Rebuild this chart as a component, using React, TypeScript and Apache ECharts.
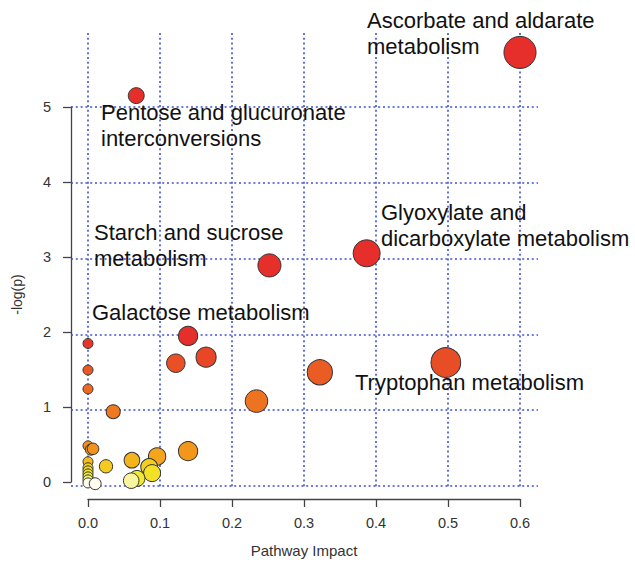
import React, { useEffect, useRef } from "react";
import * as echarts from "echarts";

// Pathway impact (x) and -log(p) (y) for each pathway
const impact = [
  0.6, 0.067, 0.387, 0.252, 0.139, 0.164, 0.122, 0.497, 0.322, 0.234, 0.035,
  0.0, 0.0, 0.0, 0.139, 0.096, 0.061, 0.025, 0.085, 0.089, 0.068, 0.06,
  0.0, 0.004, 0.007, 0.0, 0.0, 0.0, 0.0, 0.0, 0.0, 0.0, 0.01,
];
const logP = [
  5.72, 5.15, 3.07, 2.91, 1.98, 1.7, 1.62, 1.63, 1.5, 1.12, 0.98,
  1.88, 1.53, 1.28, 0.46, 0.39, 0.34, 0.26, 0.25, 0.17, 0.1, 0.07,
  0.53, 0.48, 0.49, 0.32, 0.24, 0.2, 0.16, 0.12, 0.08, 0.04, 0.03,
];
const xTicks = [0, 0.1, 0.2, 0.3, 0.4, 0.5, 0.6];
const yTicks = [0, 1, 2, 3, 4, 5];
const annotations = [
  "Ascorbate and aldarate\nmetabolism",
  "Pentose and glucuronate\ninterconversions",
  "Starch and sucrose\nmetabolism",
  "Glyoxylate and\ndicarboxylate metabolism",
  "Galactose metabolism",
  "Tryptophan metabolism",
];
// colour stops every 0.05 of -log(p), from 0 to 2
const heatColors = [
  "#ffffff", "#fdfbe6", "#f0ea34", "#f1e428", "#f3dc1e", "#f4ce1e", "#f5c01e",
  "#f4b11d", "#f4a21c", "#f3991c", "#f2901c", "#f18c1d", "#f1881e", "#f0861e",
  "#f0841e", "#f0821e", "#f0801e", "#ef7e1f", "#ef7c20", "#ef7a20", "#ef7820",
  "#ee7620", "#ee7420", "#ee7121", "#ee6e22", "#ed6b22", "#ed6822", "#ec6522",
  "#ec6222", "#eb5f23", "#eb5c24", "#ea5725", "#e95226", "#e84c26", "#e84626",
  "#e74127", "#e73c28", "#e63829", "#e6342a", "#e6312a", "#e62e2a",
];

const W = 635;
const H = 563;
const PX0 = 88;
const PX6 = 520;
const PY0 = 486;
const PY5 = 107;
const plotLeft = 71;
const plotRight = 538;
const plotTop = 33;
const plotBottom = 503;
const FONT = "'Liberation Sans', Arial, Helvetica, sans-serif";

export default function App() {
  const ref = useRef<HTMLDivElement>(null);
  useEffect(() => {
    const chart = echarts.init(ref.current!, null, { renderer: "svg" });
    const pxPerX = (PX6 - PX0) / 0.6;
    const pxPerY = (PY0 - PY5) / 5;
    const x1Min = (plotLeft - PX0) / pxPerX;
    const x1Max = (plotRight - PX0) / pxPerX;
    const y1Min = (PY0 - plotBottom) / pxPerY;
    const y1Max = (PY0 - plotTop) / pxPerY;
    const points = impact.map((v, i) => [v, logP[i]]);
    const annPos = [
      [367, 7],
      [101, 99],
      [94, 219],
      [381, 199],
      [92, 299],
      [355, 369],
    ];
    const axisColor = "#444";
    chart.setOption({
      animation: false,
      backgroundColor: "#ffffff",
      grid: [
        { left: PX0, right: W - PX6, top: PY5, bottom: H - PY0 },
        { left: plotLeft, right: W - plotRight, top: plotTop, bottom: H - plotBottom },
      ],
      xAxis: [
        {
          gridIndex: 0,
          type: "value",
          min: 0,
          max: 0.6,
          interval: 0.1,
          offset: plotBottom - PY0,
          axisLine: { show: true, onZero: false, lineStyle: { color: axisColor, width: 1.3 } },
          axisTick: { show: true, length: 8, lineStyle: { color: axisColor, width: 1.3 } },
          axisLabel: {
            margin: 16,
            fontSize: 14.5,
            color: "#333",
            fontFamily: FONT,
            formatter: (v: number) => v.toFixed(1),
          },
          splitLine: { show: false },
          name: "Pathway Impact",
          nameLocation: "middle",
          nameGap: 44,
          nameTextStyle: { fontSize: 15, color: "#333", fontFamily: FONT },
        },
        { gridIndex: 1, type: "value", min: x1Min, max: x1Max, show: false },
      ],
      yAxis: [
        {
          gridIndex: 0,
          type: "value",
          min: 0,
          max: 5,
          interval: 1,
          offset: PX0 - plotLeft,
          axisLine: { show: true, onZero: false, lineStyle: { color: axisColor, width: 1.3 } },
          axisTick: { show: true, length: 8, lineStyle: { color: axisColor, width: 1.3 } },
          axisLabel: { margin: 20, fontSize: 14.5, color: "#333", fontFamily: FONT },
          splitLine: { show: false },
          name: "-log(p)",
          nameLocation: "middle",
          nameGap: 47,
          nameRotate: 90,
          nameTextStyle: { fontSize: 14, color: "#333", fontFamily: FONT },
        },
        { gridIndex: 1, type: "value", min: y1Min, max: y1Max, show: false },
      ],
      visualMap: {
        type: "continuous",
        show: false,
        seriesIndex: 1,
        dimension: 1,
        min: 0,
        max: 2,
        inRange: { color: heatColors },
        outOfRange: { color: "#e6262a" },
      },
      series: [
        {
          type: "scatter",
          xAxisIndex: 1,
          yAxisIndex: 1,
          data: [],
          z: 1,
          silent: true,
          markLine: {
            silent: true,
            symbol: "none",
            z: 1,
            label: { show: false },
            lineStyle: { color: "#3e50d2", type: [2, 2.8], width: 1.6 },
            data: [
              ...yTicks.map((v) => ({ yAxis: v })),
              ...xTicks.map((v) => [{ coord: [v, y1Max] }, { coord: [v, -0.04] }]),
            ],
          },
        },
        {
          type: "scatter",
          xAxisIndex: 1,
          yAxisIndex: 1,
          z: 10,
          clip: false,
          data: points,
          symbolSize: (v: number[]) => 10 + 30 * Math.pow(v[0], 0.6),
          itemStyle: { borderColor: "#333", borderWidth: 1, opacity: 1 },
        },
      ],
      graphic: annotations.map((t, i) => ({
        type: "text",
        x: annPos[i][0],
        y: annPos[i][1],
        z: 100,
        style: {
          text: t,
          fontSize: 22,
          lineHeight: 26,
          fontFamily: FONT,
          fill: "#111",
          verticalAlign: "top",
        },
      })),
    });
    return () => chart.dispose();
  }, []);
  return (
    <div
      ref={ref}
      style={{ position: "fixed", left: 0, top: 0, width: W, height: H, background: "#fff" }}
    />
  );
}
